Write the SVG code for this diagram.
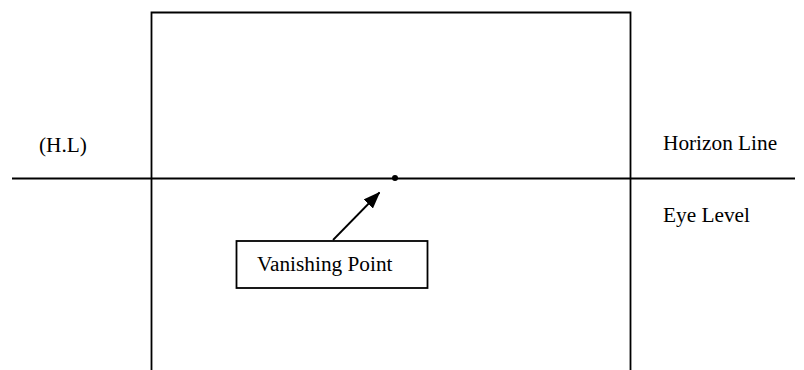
<svg xmlns="http://www.w3.org/2000/svg" width="804" height="370" viewBox="0 0 804 370">
<style>
.ln{stroke:#000;stroke-width:1.8;fill:none}
.t{font-family:"Liberation Serif","Times New Roman",serif;font-size:21.3px;fill:#000}
</style>
<defs>
<marker id="ah" markerWidth="17" markerHeight="13" refX="16" refY="6.5" orient="auto" markerUnits="userSpaceOnUse">
<path d="M0,0 L17,6.5 L0,13 Z" fill="#000"/>
</marker>
</defs>
<rect width="804" height="370" fill="#fff"/>
<g id="frame">
<path class="ln" d="M151.5,372 V12.5 H630.5 V372"/>
</g>
<g id="horizon">
<line class="ln" x1="12" y1="178.5" x2="795" y2="178.5"/>
<circle cx="395" cy="178" r="3" fill="#000"/>
</g>
<g id="labels">
<text class="t" x="39" y="152">(H.L)</text>
<text class="t" x="663" y="150">Horizon Line</text>
<text class="t" x="663" y="222">Eye Level</text>
</g>
<g id="vanishing-point">
<rect class="ln" x="236.5" y="241" width="191" height="47"/>
<text class="t" x="257" y="271">Vanishing Point</text>
</g>
<g id="connectors">
<line class="ln" x1="333" y1="240" x2="379.5" y2="192.5" marker-end="url(#ah)"/>
</g>
</svg>
